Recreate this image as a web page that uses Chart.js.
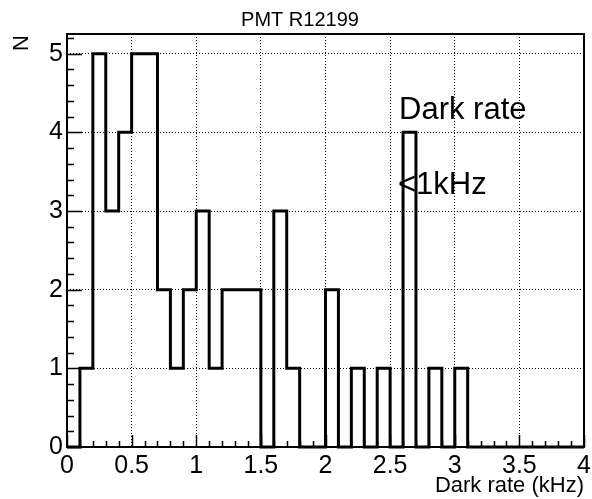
<!DOCTYPE html>
<html>
<head>
<meta charset="utf-8">
<script src="https://cdn.jsdelivr.net/npm/chart.js@4.4.1/dist/chart.umd.min.js"></script>
<style>
  html, body { margin: 0; padding: 0; background: #fff; }
  #wrap { width: 592px; height: 499px; }
</style>
</head>
<body>
<div id="wrap"><canvas id="chart" width="592" height="499"></canvas></div>
<script>
// histogram PMT R12199: 40 bins of 0.1 kHz
const binEdges = [0.0, 0.1, 0.2, 0.3, 0.4, 0.5, 0.6, 0.7, 0.8, 0.9,
                  1.0, 1.1, 1.2, 1.3, 1.4, 1.5, 1.6, 1.7, 1.8, 1.9,
                  2.0, 2.1, 2.2, 2.3, 2.4, 2.5, 2.6, 2.7, 2.8, 2.9,
                  3.0, 3.1, 3.2, 3.3, 3.4, 3.5, 3.6, 3.7, 3.8, 3.9, 4.0];
const counts = [0, 1, 5, 3, 4, 5, 5, 2, 1, 2,
                3, 1, 2, 2, 2, 0, 3, 1, 0, 0,
                2, 0, 1, 0, 1, 0, 4, 0, 1, 0,
                1, 0, 0, 0, 0, 0, 0, 0, 0, 0];
const xTicks = [0, 0.5, 1, 1.5, 2, 2.5, 3, 3.5, 4];
const yTicks = [0, 1, 2, 3, 4, 5];
const yMax = 5.25;

const chartTitle = 'PMT R12199';
const xTitle = 'Dark rate (kHz)';
const yTitle = 'N';
const note = ['Dark rate', '<1kHz'];

const FONT = '"Liberation Sans", Arial, Helvetica, sans-serif';

// step points: each bin starts at its low edge, last point closes the final bin
const points = counts.map((c, i) => ({ x: binEdges[i], y: c }));
points.push({ x: binEdges[binEdges.length - 1], y: counts[counts.length - 1] });

// frame, inward ticks and the free texts (ROOT style)
const rootFrame = {
  id: 'rootFrame',
  afterDraw(chart) {
    const { ctx, chartArea: a, scales: { x, y } } = chart;
    ctx.save();
    ctx.strokeStyle = '#000';

    // ticks: major + 4 minor between majors
    ctx.lineWidth = 1.5;
    ctx.beginPath();
    for (let i = 0; i < xTicks.length; i++) {
      const px = Math.round(x.getPixelForValue(xTicks[i])) + 0.5;
      ctx.moveTo(px, a.bottom); ctx.lineTo(px, a.bottom - 12);
      if (i < xTicks.length - 1) {
        const step = (xTicks[i + 1] - xTicks[i]) / 5;
        for (let k = 1; k < 5; k++) {
          const mx = Math.round(x.getPixelForValue(xTicks[i] + k * step)) + 0.5;
          ctx.moveTo(mx, a.bottom); ctx.lineTo(mx, a.bottom - 6);
        }
      }
    }
    for (let i = 0; i < yTicks.length; i++) {
      const py = Math.round(y.getPixelForValue(yTicks[i])) + 0.5;
      ctx.moveTo(a.left, py); ctx.lineTo(a.left + 15, py);
      const step = 0.2;
      for (let k = 1; k < 5; k++) {
        const v = yTicks[i] + k * step;
        if (v > yMax) break;
        const my = Math.round(y.getPixelForValue(v)) + 0.5;
        ctx.moveTo(a.left, my); ctx.lineTo(a.left + 7, my);
      }
    }
    ctx.stroke();

    // frame
    ctx.lineWidth = 2;
    ctx.strokeRect(a.left, a.top, a.right - a.left, a.bottom - a.top);

    // texts
    ctx.fillStyle = '#000';
    ctx.textBaseline = 'alphabetic';
    ctx.font = '20px ' + FONT;
    ctx.textAlign = 'center';
    ctx.fillText(chartTitle, 300, 26);

    ctx.font = '22px ' + FONT;
    ctx.textAlign = 'right';
    ctx.fillText(xTitle, a.right, 492);

    ctx.save();
    ctx.translate(28, a.top + 1);
    ctx.rotate(-Math.PI / 2);
    ctx.textAlign = 'right';
    ctx.fillText(yTitle, 0, 0);
    ctx.restore();

    ctx.font = '31px ' + FONT;
    ctx.textAlign = 'left';
    ctx.fillText(note[0], 399, 119);
    ctx.fillText(note[1], 398, 194);
    ctx.restore();
  }
};

new Chart(document.getElementById('chart'), {
  type: 'line',
  data: {
    datasets: [{
      data: points,
      stepped: 'before',
      borderColor: '#000',
      borderWidth: 3,
      pointRadius: 0,
      fill: false,
      clip: 4
    }]
  },
  options: {
    responsive: false,
    animation: false,
    devicePixelRatio: 1,
    layout: { padding: { top: 34, right: 8, left: 0, bottom: 0 } },
    plugins: { legend: { display: false }, tooltip: { enabled: false }, title: { display: false } },
    scales: {
      x: {
        type: 'linear', min: 0, max: 4,
        afterBuildTicks: s => { s.ticks = xTicks.map(v => ({ value: v })); },
        afterFit: s => { s.height = 52; s.paddingLeft = 0; s.paddingRight = 0; },
        grid: { color: '#000', lineWidth: 1, drawTicks: false },
        border: { display: false, dash: [1, 2] },
        ticks: { color: '#000', padding: 4, maxRotation: 0, autoSkip: false,
                 callback: v => String(v), font: { family: FONT, size: 25 } }
      },
      y: {
        type: 'linear', min: 0, max: yMax,
        afterBuildTicks: s => { s.ticks = yTicks.map(v => ({ value: v })); },
        afterFit: s => { s.width = 67; s.paddingTop = 0; s.paddingBottom = 0; },
        grid: { color: '#000', lineWidth: 1, drawTicks: false },
        border: { display: false, dash: [1, 2] },
        ticks: { color: '#000', padding: 4, callback: v => String(v),
                 font: { family: FONT, size: 25 } }
      }
    }
  },
  plugins: [rootFrame]
});
</script>
</body>
</html>
